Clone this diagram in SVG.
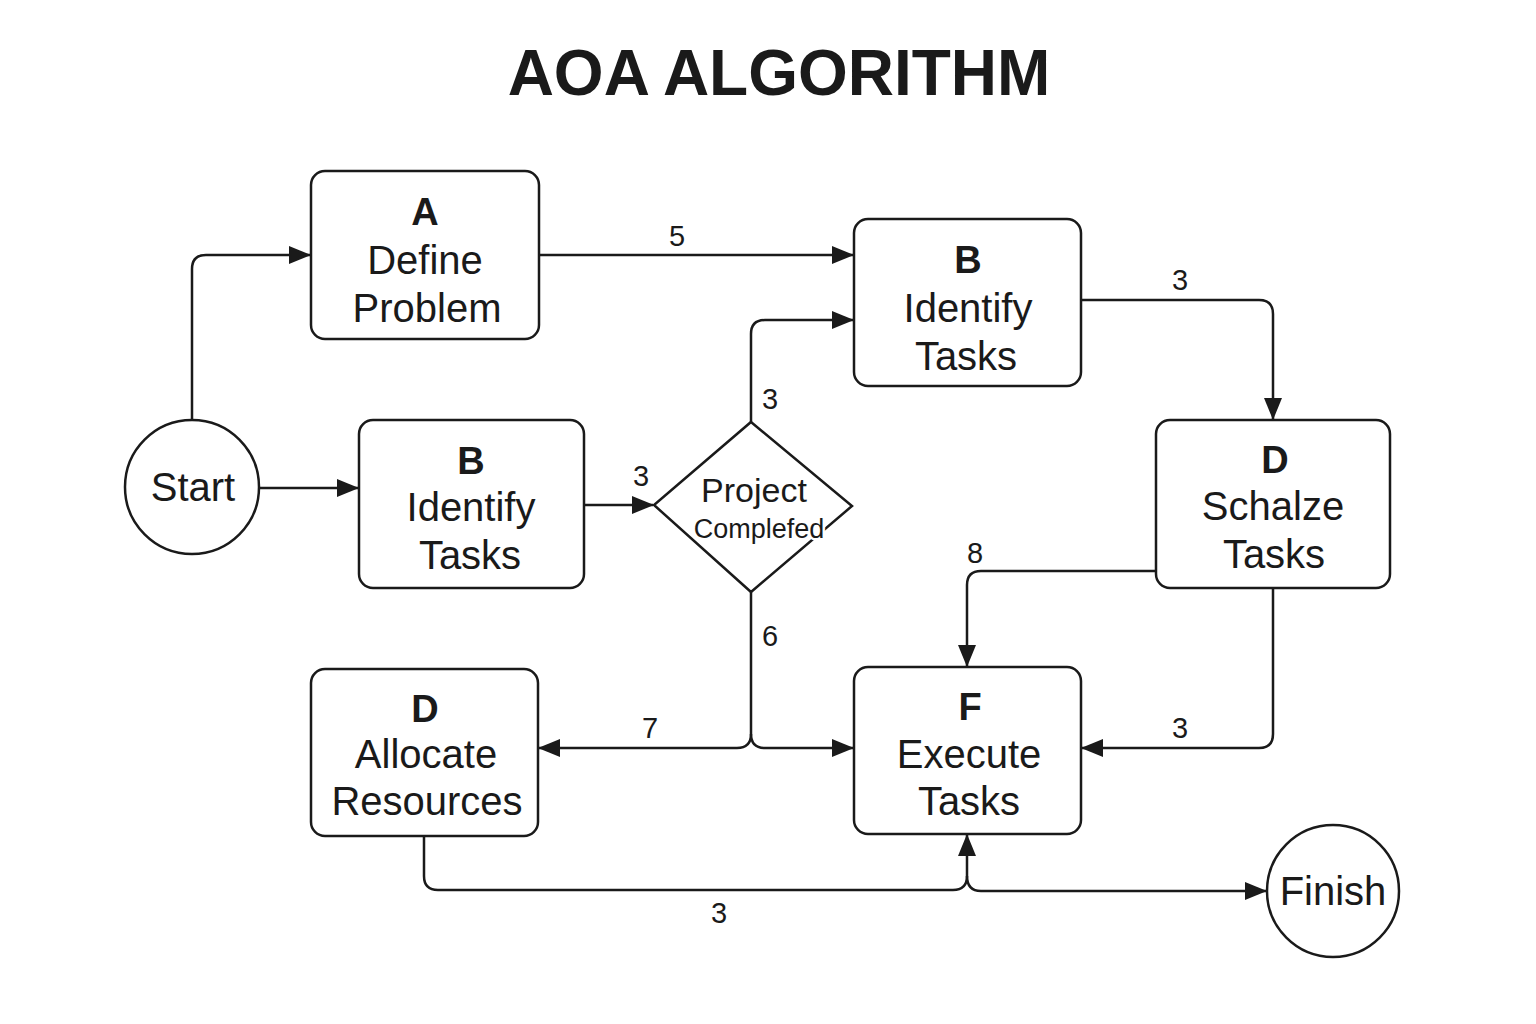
<svg xmlns="http://www.w3.org/2000/svg" width="1536" height="1024" viewBox="0 0 1536 1024">
<style>
.box{fill:#fff;stroke:#1a1a1a;stroke-width:2.5}
.t{font-family:"Liberation Sans",Arial,sans-serif;fill:#1a1a1a;text-anchor:middle}
.b{font-size:38px;font-weight:bold}
.n{font-size:40px}
.lbl{font-size:29px}
.c{fill:none;stroke:#1a1a1a;stroke-width:2.5}
</style>
<defs>
<marker id="ar" viewBox="0 0 22 18" refX="21" refY="9" markerWidth="22" markerHeight="18" markerUnits="userSpaceOnUse" orient="auto">
<path d="M0,0 L22,9 L0,18 Z" fill="#1a1a1a"/>
</marker>
</defs>
<rect width="1536" height="1024" fill="#fff"/>
<text class="t" x="779" y="95" font-size="64" font-weight="bold">AOA ALGORITHM</text>

<g id="connectors">
<path class="c" d="M192,420 V269 Q192,255 206,255 H310" marker-end="url(#ar)"/>
<path class="c" d="M539,255 H853" marker-end="url(#ar)"/>
<path class="c" d="M259,488 H358" marker-end="url(#ar)"/>
<path class="c" d="M584,505 H653" marker-end="url(#ar)"/>
<path class="c" d="M751,422 V334 Q751,320 765,320 H853" marker-end="url(#ar)"/>
<path class="c" d="M1081,300 H1259 Q1273,300 1273,314 V419" marker-end="url(#ar)"/>
<path class="c" d="M751,592 V734 Q751,748 737,748 H539" marker-end="url(#ar)"/>
<path class="c" d="M751,734 Q751,748 765,748 H853" marker-end="url(#ar)"/>
<path class="c" d="M1156,571 H981 Q967,571 967,585 V666" marker-end="url(#ar)"/>
<path class="c" d="M1273,588 V734 Q1273,748 1259,748 H1082" marker-end="url(#ar)"/>
<path class="c" d="M424,836 V876 Q424,890 438,890 H953 Q967,890 967,876 V835" marker-end="url(#ar)"/>
<path class="c" d="M967,876 Q967,891 981,891 H1266" marker-end="url(#ar)"/>
<text class="t lbl" x="677" y="246">5</text>
<text class="t lbl" x="641" y="486">3</text>
<text class="t lbl" x="770" y="409">3</text>
<text class="t lbl" x="1180" y="290">3</text>
<text class="t lbl" x="770" y="646">6</text>
<text class="t lbl" x="650" y="738">7</text>
<text class="t lbl" x="975" y="563">8</text>
<text class="t lbl" x="1180" y="738">3</text>
<text class="t lbl" x="719" y="923">3</text>
</g>

<g id="start">
<circle class="box" cx="192" cy="487" r="67"/>
<text class="t n" x="193" y="501">Start</text>
</g>

<g id="nodeA">
<rect class="box" x="311" y="171" width="228" height="168" rx="14"/>
<text class="t b" x="425" y="225">A</text>
<text class="t n" x="425" y="274">Define</text>
<text class="t n" x="427" y="322">Problem</text>
</g>

<g id="nodeB1">
<rect class="box" x="854" y="219" width="227" height="167" rx="14"/>
<text class="t b" x="968" y="273">B</text>
<text class="t n" x="968" y="322">Identify</text>
<text class="t n" x="966" y="370">Tasks</text>
</g>

<g id="nodeB2">
<rect class="box" x="359" y="420" width="225" height="168" rx="14"/>
<text class="t b" x="471" y="474">B</text>
<text class="t n" x="471" y="521">Identify</text>
<text class="t n" x="470" y="569">Tasks</text>
</g>

<g id="decision">
<path class="box" d="M751,422 L852,506 L751,592 L654,505 Z"/>
<text class="t" x="754" y="502" font-size="34">Project</text>
<text class="t" x="759" y="538" font-size="27" stroke="#fff" stroke-width="5" paint-order="stroke" stroke-linejoin="round">Complefed</text>
</g>

<g id="nodeD1">
<rect class="box" x="1156" y="420" width="234" height="168" rx="14"/>
<text class="t b" x="1275" y="473">D</text>
<text class="t n" x="1273" y="520">Schalze</text>
<text class="t n" x="1274" y="568">Tasks</text>
</g>

<g id="nodeD2">
<rect class="box" x="311" y="669" width="227" height="167" rx="14"/>
<text class="t b" x="425" y="722">D</text>
<text class="t n" x="426" y="768">Allocate</text>
<text class="t n" x="427" y="815">Resources</text>
</g>

<g id="nodeF">
<rect class="box" x="854" y="667" width="227" height="167" rx="14"/>
<text class="t b" x="970" y="720">F</text>
<text class="t n" x="969" y="768">Execute</text>
<text class="t n" x="969" y="815">Tasks</text>
</g>

<g id="finish">
<circle class="box" cx="1333" cy="891" r="66"/>
<text class="t n" x="1333" y="905">Finish</text>
</g>
</svg>
